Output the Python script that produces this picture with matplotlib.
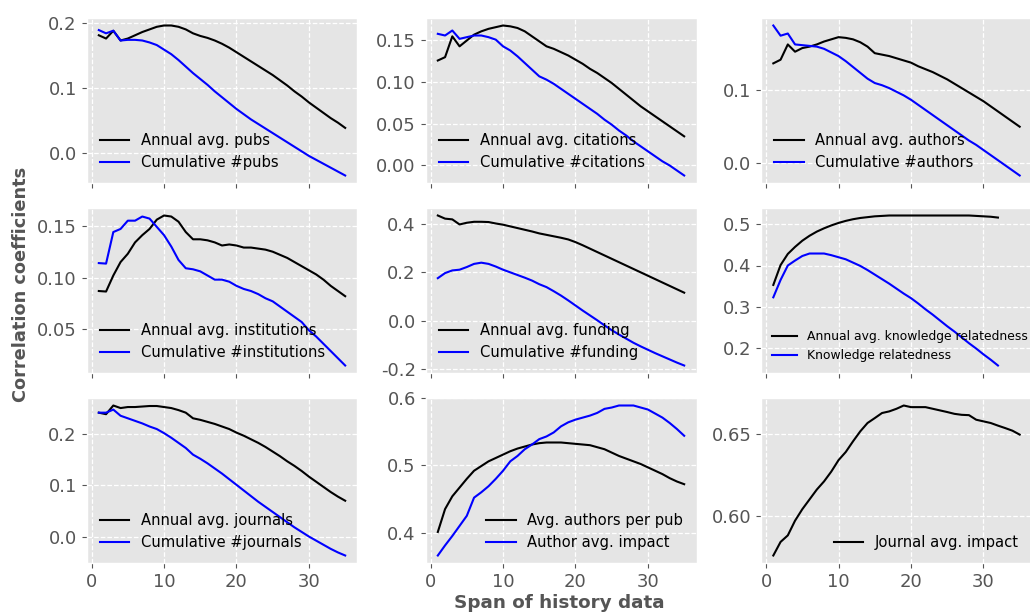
import matplotlib
matplotlib.use("Agg")
import matplotlib.pyplot as plt

plt.style.use("ggplot")

# span of history data (years)
span = list(range(1, 36))
span_kr = list(range(1, 33))

# --- row 1 ---
annual_pubs = [0.181, 0.176, 0.188, 0.173, 0.176, 0.181, 0.186, 0.190, 0.194, 0.196,
               0.196, 0.194, 0.190, 0.184, 0.180, 0.177, 0.173, 0.168, 0.162, 0.155,
               0.148, 0.141, 0.134, 0.127, 0.120, 0.112, 0.104, 0.095, 0.087, 0.078,
               0.070, 0.062, 0.054, 0.047, 0.039]
cum_pubs = [0.189, 0.184, 0.188, 0.173, 0.174, 0.174, 0.173, 0.170, 0.166, 0.159,
            0.152, 0.143, 0.133, 0.123, 0.114, 0.105, 0.095, 0.086, 0.077, 0.068,
            0.060, 0.052, 0.045, 0.038, 0.031, 0.024, 0.017, 0.010, 0.003, -0.004,
            -0.010, -0.016, -0.022, -0.028, -0.034]

annual_cit = [0.126, 0.130, 0.155, 0.143, 0.150, 0.157, 0.161, 0.164, 0.166, 0.168,
              0.167, 0.165, 0.161, 0.155, 0.149, 0.143, 0.140, 0.136, 0.132, 0.127,
              0.122, 0.116, 0.111, 0.105, 0.099, 0.092, 0.085, 0.078, 0.071, 0.065,
              0.059, 0.053, 0.047, 0.041, 0.035]
cum_cit = [0.158, 0.156, 0.162, 0.152, 0.154, 0.156, 0.156, 0.154, 0.151, 0.143,
           0.138, 0.131, 0.123, 0.115, 0.107, 0.103, 0.098, 0.092, 0.086, 0.080,
           0.074, 0.068, 0.062, 0.055, 0.049, 0.042, 0.036, 0.029, 0.023, 0.017,
           0.011, 0.005, 0.000, -0.006, -0.012]

annual_auth = [0.137, 0.142, 0.163, 0.153, 0.158, 0.160, 0.163, 0.167, 0.170, 0.173,
               0.172, 0.170, 0.166, 0.160, 0.151, 0.149, 0.147, 0.144, 0.141, 0.138,
               0.133, 0.129, 0.125, 0.120, 0.115, 0.109, 0.103, 0.097, 0.091, 0.085,
               0.078, 0.071, 0.064, 0.057, 0.050]
cum_auth = [0.189, 0.175, 0.178, 0.163, 0.162, 0.161, 0.160, 0.157, 0.152, 0.147,
            0.140, 0.132, 0.124, 0.116, 0.110, 0.107, 0.103, 0.098, 0.093, 0.087,
            0.080, 0.073, 0.066, 0.059, 0.052, 0.045, 0.038, 0.031, 0.025, 0.018,
            0.011, 0.004, -0.003, -0.010, -0.017]

# --- row 2 ---
annual_inst = [0.087, 0.0865, 0.102, 0.115, 0.123, 0.134, 0.141, 0.147, 0.156, 0.160,
               0.159, 0.154, 0.144, 0.137, 0.137, 0.136, 0.134, 0.131, 0.132, 0.131,
               0.129, 0.129, 0.128, 0.127, 0.125, 0.122, 0.119, 0.115, 0.111, 0.107,
               0.103, 0.098, 0.092, 0.087, 0.082]
cum_inst = [0.114, 0.1135, 0.144, 0.147, 0.155, 0.155, 0.159, 0.157, 0.149, 0.141,
            0.130, 0.117, 0.109, 0.108, 0.106, 0.102, 0.098, 0.098, 0.096, 0.092,
            0.089, 0.087, 0.084, 0.080, 0.077, 0.072, 0.067, 0.062, 0.057, 0.049,
            0.043, 0.036, 0.029, 0.022, 0.015]

annual_fund = [0.434, 0.421, 0.418, 0.397, 0.404, 0.408, 0.408, 0.407, 0.401, 0.396,
               0.389, 0.382, 0.375, 0.368, 0.360, 0.354, 0.348, 0.342, 0.335, 0.324,
               0.311, 0.297, 0.283, 0.269, 0.255, 0.241, 0.227, 0.213, 0.199, 0.185,
               0.171, 0.157, 0.143, 0.129, 0.115]
cum_fund = [0.175, 0.196, 0.207, 0.210, 0.221, 0.234, 0.239, 0.234, 0.223, 0.210,
            0.199, 0.188, 0.177, 0.165, 0.150, 0.138, 0.121, 0.103, 0.083, 0.062,
            0.041, 0.021, 0.001, -0.020, -0.040, -0.058, -0.075, -0.092, -0.107, -0.121,
            -0.135, -0.148, -0.161, -0.174, -0.186]

annual_kr = [0.353, 0.401, 0.428, 0.445, 0.460, 0.472, 0.482, 0.490, 0.497, 0.503,
             0.508, 0.512, 0.515, 0.517, 0.519, 0.520, 0.521, 0.521, 0.521, 0.521,
             0.521, 0.521, 0.521, 0.521, 0.521, 0.521, 0.521, 0.521, 0.520, 0.519,
             0.518, 0.516]
kr = [0.323, 0.365, 0.400, 0.412, 0.423, 0.429, 0.429, 0.429, 0.425, 0.420,
      0.415, 0.407, 0.399, 0.389, 0.378, 0.367, 0.356, 0.344, 0.332, 0.321,
      0.308, 0.294, 0.281, 0.267, 0.253, 0.240, 0.226, 0.212, 0.199, 0.185,
      0.172, 0.158]

# --- row 3 ---
annual_jour = [0.242, 0.239, 0.256, 0.251, 0.253, 0.253, 0.254, 0.255, 0.255, 0.253,
               0.251, 0.247, 0.242, 0.231, 0.228, 0.224, 0.220, 0.215, 0.210, 0.203,
               0.197, 0.190, 0.183, 0.175, 0.166, 0.157, 0.147, 0.138, 0.128, 0.117,
               0.107, 0.097, 0.087, 0.078, 0.070]
cum_jour = [0.242, 0.242, 0.248, 0.236, 0.231, 0.226, 0.221, 0.215, 0.210, 0.202,
            0.193, 0.183, 0.173, 0.160, 0.152, 0.143, 0.133, 0.123, 0.112, 0.101,
            0.090, 0.079, 0.068, 0.058, 0.048, 0.038, 0.028, 0.018, 0.009, 0.000,
            -0.008, -0.016, -0.024, -0.031, -0.037]

authors_per_pub = [0.401, 0.435, 0.454, 0.467, 0.480, 0.492, 0.499, 0.506, 0.511, 0.516,
                   0.521, 0.525, 0.528, 0.531, 0.533, 0.534, 0.534, 0.534, 0.533, 0.532,
                   0.531, 0.530, 0.527, 0.524, 0.519, 0.514, 0.510, 0.506, 0.502, 0.497,
                   0.492, 0.487, 0.481, 0.476, 0.472]
author_impact = [0.366, 0.381, 0.395, 0.410, 0.425, 0.452, 0.460, 0.469, 0.480, 0.492,
                 0.506, 0.514, 0.524, 0.531, 0.539, 0.543, 0.549, 0.558, 0.564, 0.568,
                 0.571, 0.574, 0.578, 0.584, 0.586, 0.589, 0.589, 0.589, 0.586, 0.583,
                 0.577, 0.571, 0.563, 0.554, 0.544]

journal_impact = [0.5757, 0.584, 0.588, 0.597, 0.604, 0.610, 0.616, 0.621, 0.627, 0.634,
                  0.639, 0.6455, 0.6516, 0.6567, 0.6597, 0.6628, 0.6638, 0.6654, 0.6674, 0.6664,
                  0.6664, 0.6664, 0.6654, 0.6644, 0.6634, 0.6623, 0.6617, 0.6615, 0.6587, 0.6577,
                  0.6567, 0.6551, 0.6536, 0.652, 0.6496]

x_ticks = [0, 10, 20, 30]

# (series, legend location, legend size, y ticks)
panels = [
    [([(span, annual_pubs, "black", "Annual avg. pubs"),
       (span, cum_pubs, "blue", "Cumulative #pubs")], "lower left", 10.6, [0.0, 0.1, 0.2]),
     ([(span, annual_cit, "black", "Annual avg. citations"),
       (span, cum_cit, "blue", "Cumulative #citations")], "lower left", 10.6, [0.00, 0.05, 0.10, 0.15]),
     ([(span, annual_auth, "black", "Annual avg. authors"),
       (span, cum_auth, "blue", "Cumulative #authors")], "lower left", 10.6, [0.0, 0.1])],
    [([(span, annual_inst, "black", "Annual avg. institutions"),
       (span, cum_inst, "blue", "Cumulative #institutions")], "lower left", 10.6, [0.05, 0.10, 0.15]),
     ([(span, annual_fund, "black", "Annual avg. funding"),
       (span, cum_fund, "blue", "Cumulative #funding")], "lower left", 10.6, [-0.2, 0.0, 0.2, 0.4]),
     ([(span_kr, annual_kr, "black", "Annual avg. knowledge relatedness"),
       (span_kr, kr, "blue", "Knowledge relatedness")], "lower left", 8.9, [0.2, 0.3, 0.4, 0.5])],
    [([(span, annual_jour, "black", "Annual avg. journals"),
       (span, cum_jour, "blue", "Cumulative #journals")], "lower left", 10.6, [0.0, 0.1, 0.2]),
     ([(span, authors_per_pub, "black", "Avg. authors per pub"),
       (span, author_impact, "blue", "Author avg. impact")], "lower right", 10.6, [0.4, 0.5, 0.6]),
     ([(span, journal_impact, "black", "Journal avg. impact")], "lower right", 10.6, [0.60, 0.65])],
]
y_fmt = [["%.1f", "%.2f", "%.1f"], ["%.2f", "%.1f", "%.1f"], ["%.1f", "%.1f", "%.2f"]]

W, H = 1030, 613
fig = plt.figure(figsize=(W / 100, H / 100), dpi=100)

col_left = [86.5, 425.5, 761]
col_w = 271
row_top = [18, 208, 398]
row_h = 165

axes = []
for r in range(3):
    for c in range(3):
        l, t = col_left[c], row_top[r]
        ax = fig.add_axes([l / W, 1 - (t + row_h) / H, col_w / W, row_h / H])
        series, loc, lsize, yt = panels[r][c]
        for xs, ys, color, label in series:
            ax.plot(xs, ys, color=color, lw=1.5, label=label)
        ax.set_xlim(-0.7, 36.7)
        ax.set_xticks(x_ticks)
        ax.set_yticks(yt)
        ax.yaxis.set_major_formatter(matplotlib.ticker.FormatStrFormatter(y_fmt[r][c]))
        ax.grid(True, color="white", linestyle="--", linewidth=0.9)
        ax.tick_params(axis="both", labelsize=13, colors="#555555", labelcolor="#555555")
        if r < 2:
            ax.tick_params(axis="x", labelbottom=False)
        ax.legend(loc=loc, fontsize=lsize, frameon=False, handlelength=2.0,
                  labelspacing=0.45, borderaxespad=0.5)
        axes.append(ax)

fig.text(21 / W, 1 - 284 / H, "Correlation coefficients", rotation=90,
         ha="center", va="center", fontsize=12.8, fontweight="bold", color="#555555")
fig.text(559 / W, 1 - 603 / H, "Span of history data",
         ha="center", va="center", fontsize=13.2, fontweight="bold", color="#555555")

fig.savefig("out.png", dpi=100)
